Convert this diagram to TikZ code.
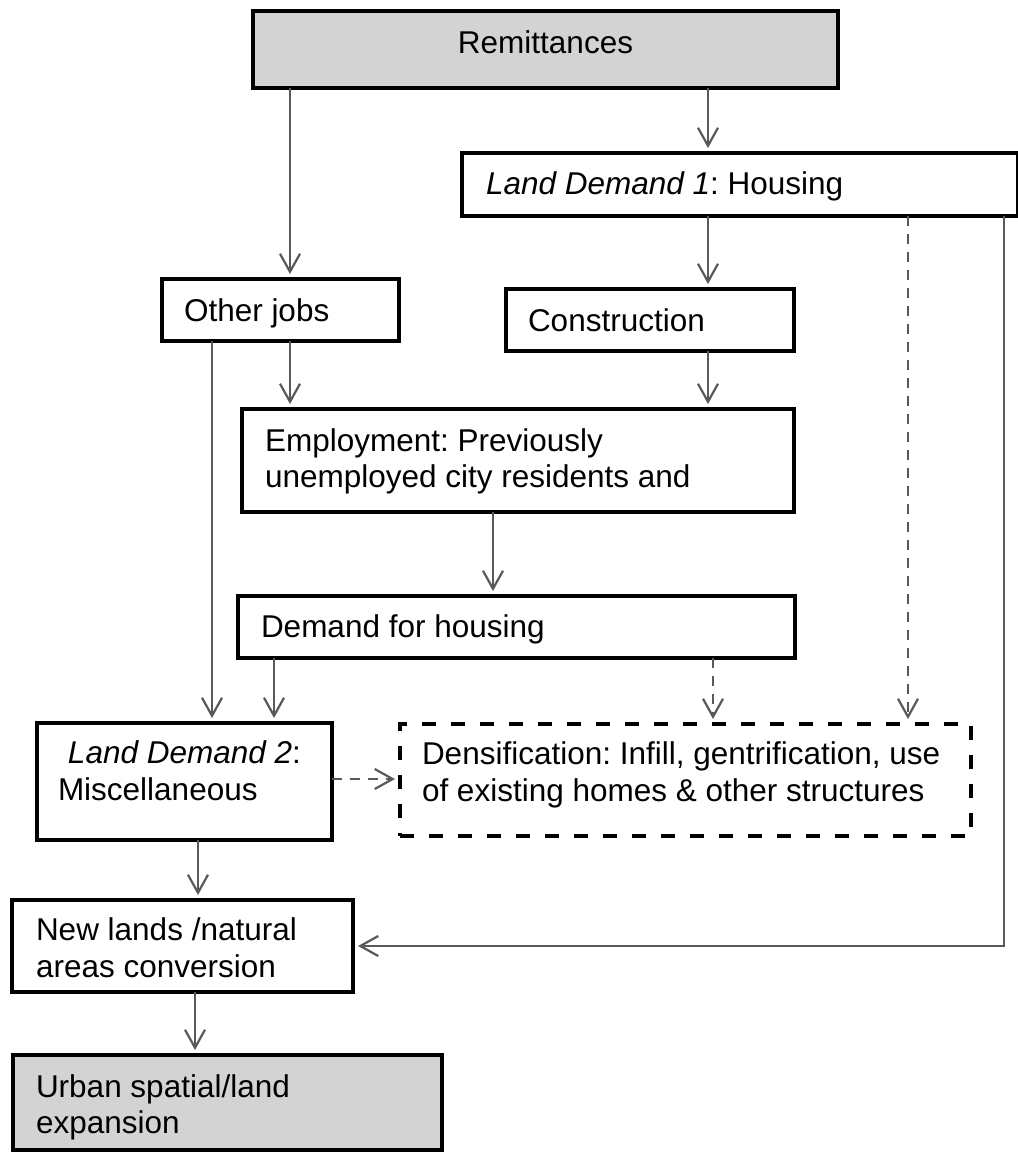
\documentclass[tikz,border=0pt]{standalone}
\usepackage{fontspec}
\setmainfont{Liberation Sans}
\usetikzlibrary{arrows.meta}
\definecolor{linegray}{HTML}{595959}
\definecolor{boxfill}{HTML}{D3D3D3}
\frenchspacing

\begin{document}
\begin{tikzpicture}[x=0.5pt,y=-0.5pt,
  box/.style={draw=black,line width=2pt,rectangle,inner sep=0pt,outer sep=0pt},
  densbox/.style={box,dash pattern=on 7pt off 7.5pt},
  lbl/.style={anchor=base west,inner sep=0pt,outer sep=0pt,font=\fontsize{15.75pt}{18pt}\selectfont},
  arr/.style={draw=linegray,line width=1.1pt,-{Straight Barb[length=9pt,width=10pt]},shorten >=2.5pt},
  darr/.style={arr,dash pattern=on 5pt off 4pt}]

\useasboundingbox (0,0) rectangle (1018,1153);

% boxes
\node[box,fill=boxfill,minimum width=292.5pt,minimum height=38.5pt] (rem) at (545.5,49.5) {};
\node[box,minimum width=278pt,minimum height=31.5pt] (ld1) at (740,184.5) {};
\node[box,minimum width=118.5pt,minimum height=31pt] (oth) at (280.5,310) {};
\node[box,minimum width=144pt,minimum height=31pt] (con) at (650,320) {};
\node[box,minimum width=276pt,minimum height=51.5pt] (emp) at (518,460.5) {};
\node[box,minimum width=278.5pt,minimum height=31pt] (dem) at (516.5,627) {};
\node[box,minimum width=147.5pt,minimum height=58.5pt] (ld2) at (184.5,781.5) {};
\node[densbox,minimum width=285.5pt,minimum height=56pt] (den) at (685.5,780) {};
\node[box,minimum width=170.5pt,minimum height=46pt] (new) at (182.5,946) {};
\node[box,fill=boxfill,minimum width=214.5pt,minimum height=47.5pt] (urb) at (227.5,1102.5) {};

% labels
\node[lbl,anchor=base] (remt) at (545.5,53) {Remittances};
\node[lbl] (ld1t) at (486,194) {\textit{Land Demand 1}: Housing};
\node[lbl] (otht) at (184,321) {Other jobs};
\node[lbl] (cont) at (528,331) {Construction};
\node[lbl] (empa) at (265,451) {Employment: Previously};
\node[lbl] (empb) at (265,487) {unemployed city residents and};
\node[lbl] (demt) at (261,637) {Demand for housing};
\node[lbl] (ld2a) at (68,763) {\textit{Land Demand 2}:};
\node[lbl] (ld2b) at (58,800) {Miscellaneous};
\node[lbl] (dena) at (422,764) {Densification: Infill, gentrification, use};
\node[lbl] (denb) at (422,801) {of existing homes \& other structures};
\node[lbl] (newa) at (36,940) {New lands /natural};
\node[lbl] (newb) at (36,977) {areas conversion};
\node[lbl] (urba) at (36,1097) {Urban spatial/land};
\node[lbl] (urbb) at (36,1133) {expansion};

% connectors
\draw[arr] (rem.south -| 708,0) -- (ld1.north -| 708,0);
\draw[arr] (rem.south -| 290,0) -- (oth.north -| 290,0);
\draw[arr] (ld1.south -| 708,0) -- (con.north -| 708,0);
\draw[darr] (ld1.south -| 908,0) -- (den.north -| 908,0);
\draw[arr] (ld1.south -| 1004,0) |- (new.east);
\draw[arr] (oth.south -| 290,0) -- (emp.north -| 290,0);
\draw[arr] (oth.south -| 212,0) -- (ld2.north -| 212,0);
\draw[arr] (con.south -| 708,0) -- (emp.north -| 708,0);
\draw[arr] (emp.south -| 493,0) -- (dem.north -| 493,0);
\draw[arr] (dem.south -| 274,0) -- (ld2.north -| 274,0);
\draw[darr] (dem.south -| 713,0) -- (den.north -| 713,0);
\draw[darr] (ld2.east |- 0,779) -- (den.west |- 0,779);
\draw[arr] (ld2.south -| 198,0) -- (new.north -| 198,0);
\draw[arr] (new.south -| 195,0) -- (urb.north -| 195,0);
\end{tikzpicture}
\end{document}
